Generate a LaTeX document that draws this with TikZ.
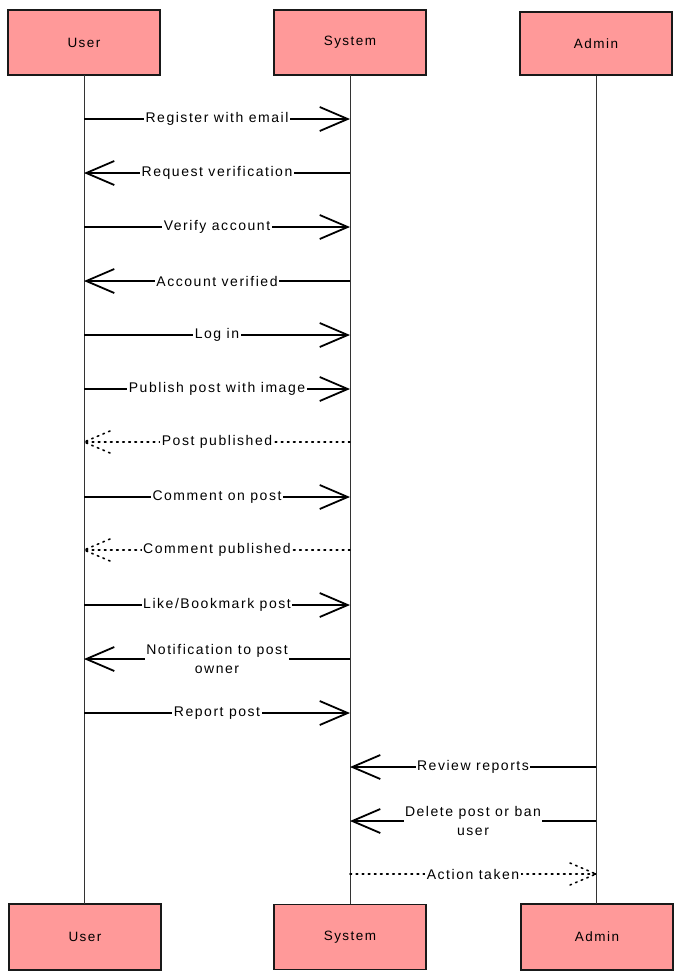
\documentclass[tikz,border=0pt]{standalone}
\usepackage{fontspec}
\setmainfont{Liberation Sans}[LetterSpace=11]
\usetikzlibrary{arrows.meta,calc}
\definecolor{actfill}{HTML}{FF9999}
\tikzset{
  actor/.style={draw=black!90, line width=1.8pt, fill=actfill, minimum width=152pt, minimum height=65pt, font=\fontsize{13.5}{16}\selectfont, inner sep=0pt},
  life/.style={draw=black!80, line width=1pt},
  msg/.style={draw=black, line width=1.8pt, -{Straight Barb[length=28pt,width=24pt,line width=1.8pt]}},
  dotmsg/.style={draw=black, line width=1.6pt, dash pattern=on 1.6pt off 4.5pt, line cap=round},
  lbl/.style={fill=white, inner sep=1.5pt, font=\fontsize{14}{19}\selectfont, align=center}
}
\begin{document}
\begin{tikzpicture}[x=1pt,y=-1pt]
\useasboundingbox (0,0) rectangle (681,980);
% actors
\node[actor] (ut) at (84,42.5) {User};
\node[actor] (st) at (350,42.5) {System};
\node[actor, minimum height=63pt] (at) at (596,43.5) {Admin};
\node[actor, minimum height=66pt] (ub) at (85,937) {User};
\node[actor] (sb) at (350,937) {System};
\node[actor, minimum height=66pt] (ab) at (597,937) {Admin};
% lifelines
\draw[life] (84,75) -- (84,904);
\draw[life] (350,75) -- (350,904);
\draw[life] (596,76) -- (596,904);
% message anchors
\foreach \i/\y in {1/119,2/173,3/227,4/281,5/335,6/389,7/442,8/497,9/550,10/605,11/659,12/713,13/767,14/821,15/874}{
  \coordinate (u\i) at (84,\y);
  \coordinate (s\i) at (350,\y);
  \coordinate (a\i) at (596,\y);
}
\draw[msg] (u1) -- node[lbl]{Register with email} (s1);
\draw[msg] (s2) -- node[lbl]{Request verification} (u2);
\draw[msg] (u3) -- node[lbl]{Verify account} (s3);
\draw[msg] (s4) -- node[lbl]{Account verified} (u4);
\draw[msg] (u5) -- node[lbl]{Log in} (s5);
\draw[msg] (u6) -- node[lbl]{Publish post with image} (s6);
\draw[dotmsg] (s7) -- node[lbl]{Post published} (u7);
\draw[dotmsg] ($(u7)+(26,-11)$) -- (u7) -- ($(u7)+(26,11)$);
\draw[msg] (u8) -- node[lbl]{Comment on post} (s8);
\draw[dotmsg] (s9) -- node[lbl]{Comment published} (u9);
\draw[dotmsg] ($(u9)+(26,-11)$) -- (u9) -- ($(u9)+(26,11)$);
\draw[msg] (u10) -- node[lbl]{Like/Bookmark post} (s10);
\draw[msg] (s11) -- node[lbl]{Notification to post\\owner} (u11);
\draw[msg] (u12) -- node[lbl]{Report post} (s12);
\draw[msg] (a13) -- node[lbl]{Review reports} (s13);
\draw[msg] (a14) -- node[lbl]{Delete post or ban\\user} (s14);
\draw[dotmsg] (s15) -- node[lbl]{Action taken} (a15);
\draw[dotmsg] ($(a15)+(-26,-11)$) -- (a15) -- ($(a15)+(-26,11)$);
\end{tikzpicture}
\end{document}
